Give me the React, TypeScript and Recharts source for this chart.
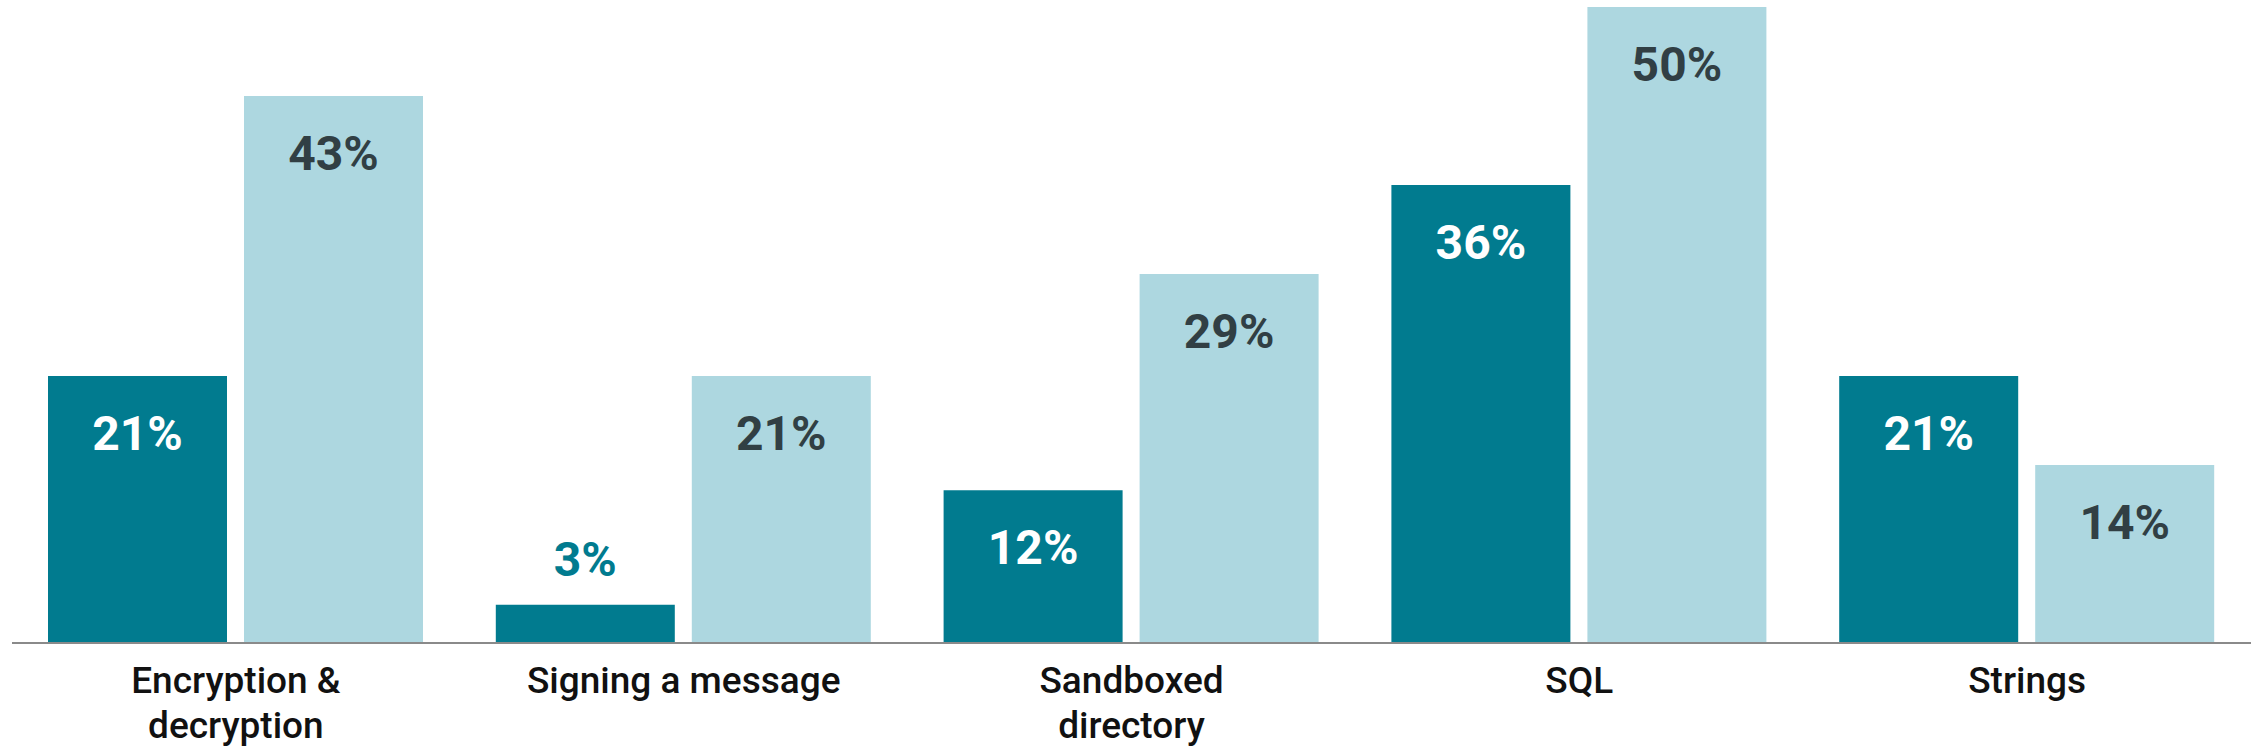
import { Bar, BarChart, LabelList, XAxis, YAxis } from 'recharts';

const categories = ['Encryption &\ndecryption', 'Signing a message', 'Sandboxed\ndirectory', 'SQL', 'Strings'];
const seriesA = [21, 3, 12, 36, 21];
const seriesB = [43, 21, 29, 50, 14];

const DARK = '#017b8f';
const LIGHT = '#add7e0';
const INK = '#313f44';

const data = categories.map((name, i) => ({ name, a: seriesA[i], b: seriesB[i] }));

function CategoryTick({ x, y, payload }: { x?: number; y?: number; payload?: { value: string } }) {
	const lines = String(payload?.value ?? '').split('\n');
	return (
		<text
			textAnchor="middle"
			fill="#111"
			style={{ fontFamily: 'Roboto, sans-serif', fontSize: 37, fontWeight: 500 }}
		>
			{lines.map((line, i) => (
				<tspan key={i} x={x} y={(y ?? 0) + 50 + i * 45}>
					{line}
				</tspan>
			))}
		</text>
	);
}

function makeLabel(insideColor: string, outsideColor: string) {
	return function ValueLabel(props: any) {
		const { x, y, width, height, value } = props;
		const cx = Number(x) + Number(width) / 2;
		const inside = Number(height) > 90;
		return (
			<text
				x={cx}
				y={inside ? Number(y) + 74 : Number(y) - 29}
				textAnchor="middle"
				fill={inside ? insideColor : outsideColor}
				style={{ fontFamily: 'Roboto, sans-serif', fontSize: 48, fontWeight: 700 }}
			>
				{`${value}%`}
			</text>
		);
	};
}

export default function App() {
	return (
		<div style={{ position: 'absolute', left: 0, top: 0, background: '#fff' }}>
			<BarChart
				width={2254}
				height={752}
				data={data}
				margin={{ top: 7, right: 3, left: 12, bottom: 9 }}
				barCategoryGap={36}
				barGap={17}
			>
				<XAxis
					dataKey="name"
					height={100}
					tickLine={false}
					tickSize={0}
					tickMargin={0}
					interval={0}
					axisLine={{ stroke: '#8a8a8a', strokeWidth: 2 }}
					tick={<CategoryTick />}
				/>
				<YAxis hide domain={[0, 50]} />
				<Bar dataKey="a" fill={DARK} isAnimationActive={false}>
					<LabelList dataKey="a" content={makeLabel('#ffffff', DARK)} />
				</Bar>
				<Bar dataKey="b" fill={LIGHT} isAnimationActive={false}>
					<LabelList dataKey="b" content={makeLabel(INK, INK)} />
				</Bar>
			</BarChart>
		</div>
	);
}
